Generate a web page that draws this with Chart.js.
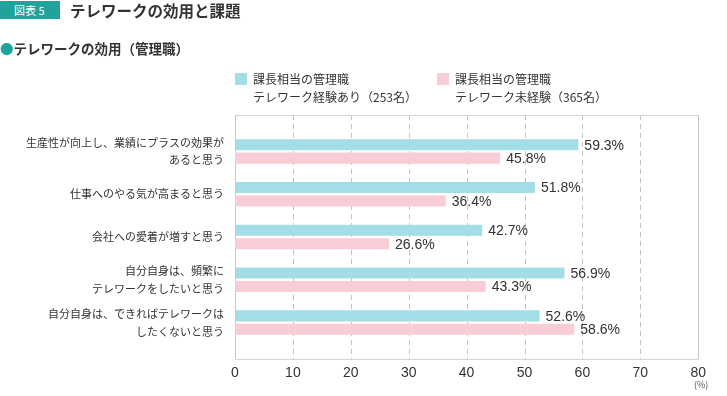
<!DOCTYPE html>
<html>
<head>
<meta charset="utf-8">
<script src="https://cdn.jsdelivr.net/npm/chart.js@4"></script>
<style>
  html, body { margin: 0; padding: 0; background: #fff; }
  #wrap { position: relative; width: 727px; height: 396px; font-family: "Noto Sans CJK JP", sans-serif; color: #333; }
  #myChart { position: absolute; left: 0; top: 0; }
  .abs { position: absolute; white-space: nowrap; }
  #badge { left: 0; top: 1px; width: 60px; height: 18px; background: #1fa39a; color: #fff; font-size: 11px; line-height: 18px; text-indent: 14px; }
  #title { left: 70px; top: 0px; font-size: 15.5px; line-height: 20px; font-weight: bold; color: #333; }
  #sub { left: 0; top: 39px; font-size: 13.5px; line-height: 18px; font-weight: bold; }
  #sub span { color: #1fa39a; }
  .sw { width: 12px; height: 12px; }
  .leg { font-size: 12px; line-height: 18px; }
  #pct { left: 694px; top: 378px; font-size: 9px; color: #555; }
</style>
</head>
<body>
<div id="wrap">
  <canvas id="myChart" width="727" height="396"></canvas>
  <div class="abs" id="badge">図表 5</div>
  <div class="abs" id="title">テレワークの効用と課題</div>
  <div class="abs" id="sub"><span>●</span>テレワークの効用（管理職）</div>
  <div class="abs sw" style="left:235px;top:73px;background:#a3dde6"></div>
  <div class="abs leg" style="left:253px;top:70px">課長相当の管理職<br>テレワーク経験あり（253名）</div>
  <div class="abs sw" style="left:437px;top:73px;background:#f9cdd5"></div>
  <div class="abs leg" style="left:455px;top:70px">課長相当の管理職<br>テレワーク未経験（365名）</div>
  <div class="abs" id="pct">(%)</div>
</div>
<script>
const ctx = document.getElementById("myChart").getContext("2d");

let labels = [
   ['生産性が向上し、業績にプラスの効果が', 'あると思う'],
   '仕事へのやる気が高まると思う',
   '会社への愛着が増すと思う',
   ['自分自身は、頻繁に', 'テレワークをしたいと思う'],
   ['自分自身は、できればテレワークは', 'したくないと思う']
];

let experienced = [59.3, 51.8, 42.7, 56.9, 52.6];
let inexperienced = [45.8, 36.4, 26.6, 43.3, 58.6];

let xTicks = [0, 10, 20, 30, 40, 50, 60, 70, 80];

// frame + dashed grid, a bit taller than the bar area
const framePlugin = {
   id: 'frame',
   beforeDatasetsDraw(chart) {
      const c = chart.ctx;
      const x = chart.scales.x;
      const top = chart.chartArea.top - 15;
      const bottom = chart.chartArea.bottom + 15;
      c.save();
      c.lineWidth = 1;
      c.strokeStyle = '#c4c4c4';
      xTicks.forEach(v => {
         const px = Math.round(x.getPixelForValue(v)) + 0.5;
         c.setLineDash(v === 0 || v === 80 ? [] : [5, 4]);
         c.beginPath();
         c.moveTo(px, top);
         c.lineTo(px, bottom);
         c.stroke();
      });
      c.setLineDash([]);
      c.strokeStyle = '#d4d4d4';
      const l = Math.round(x.getPixelForValue(0)) + 0.5;
      const r = Math.round(x.getPixelForValue(80)) + 0.5;
      c.beginPath();
      c.moveTo(l, Math.round(top) + 0.5);
      c.lineTo(r, Math.round(top) + 0.5);
      c.moveTo(l, Math.round(bottom) + 0.5);
      c.lineTo(r, Math.round(bottom) + 0.5);
      c.stroke();
      c.restore();
   }
};

const valuePlugin = {
   id: 'values',
   afterDatasetsDraw(chart) {
      const c = chart.ctx;
      c.save();
      c.font = '14px "Liberation Sans", sans-serif';
      c.fillStyle = '#333';
      c.textBaseline = 'middle';
      chart.data.datasets.forEach((ds, i) => {
         chart.getDatasetMeta(i).data.forEach((bar, j) => {
            c.fillText(ds.data[j].toFixed(1) + '%', bar.x + 6, bar.y + 1);
         });
      });
      c.restore();
   }
};

const data = {
   labels,
   datasets: [
      {
         label: 'テレワーク経験あり（253名）',
         data: experienced,
         backgroundColor: '#a3dde6',
         categoryPercentage: 0.63,
         barPercentage: 0.82
      },
      {
         label: 'テレワーク未経験（365名）',
         data: inexperienced,
         backgroundColor: '#f9cdd5',
         categoryPercentage: 0.63,
         barPercentage: 0.82
      }
   ]
};

const config = {
   type: 'bar',
   data: data,
   options: {
      indexAxis: 'y',
      responsive: false,
      animation: false,
      layout: {
         padding: { top: 130, right: 28, left: 0, bottom: 0 }
      },
      plugins: {
         legend: { display: false },
         tooltip: { enabled: false }
      },
      scales: {
         x: {
            min: 0,
            max: 80,
            afterFit: s => { s.height = 52; },
            afterBuildTicks: s => { s.ticks = xTicks.map(v => ({ value: v })); },
            grid: { display: false, drawTicks: false },
            border: { display: false },
            ticks: {
               padding: 21,
               color: '#333',
               font: { family: '"Liberation Sans", sans-serif', size: 14 }
            }
         },
         y: {
            afterFit: s => { s.width = 235; },
            grid: { display: false, drawTicks: false },
            border: { display: false },
            ticks: {
               padding: 11,
               color: '#333',
               font: { family: '"Noto Sans CJK JP", sans-serif', size: 11, lineHeight: 1.6 }
            }
         }
      }
   },
   plugins: [framePlugin, valuePlugin]
};

const myChart = new Chart(ctx, config);
</script>
</body>
</html>
